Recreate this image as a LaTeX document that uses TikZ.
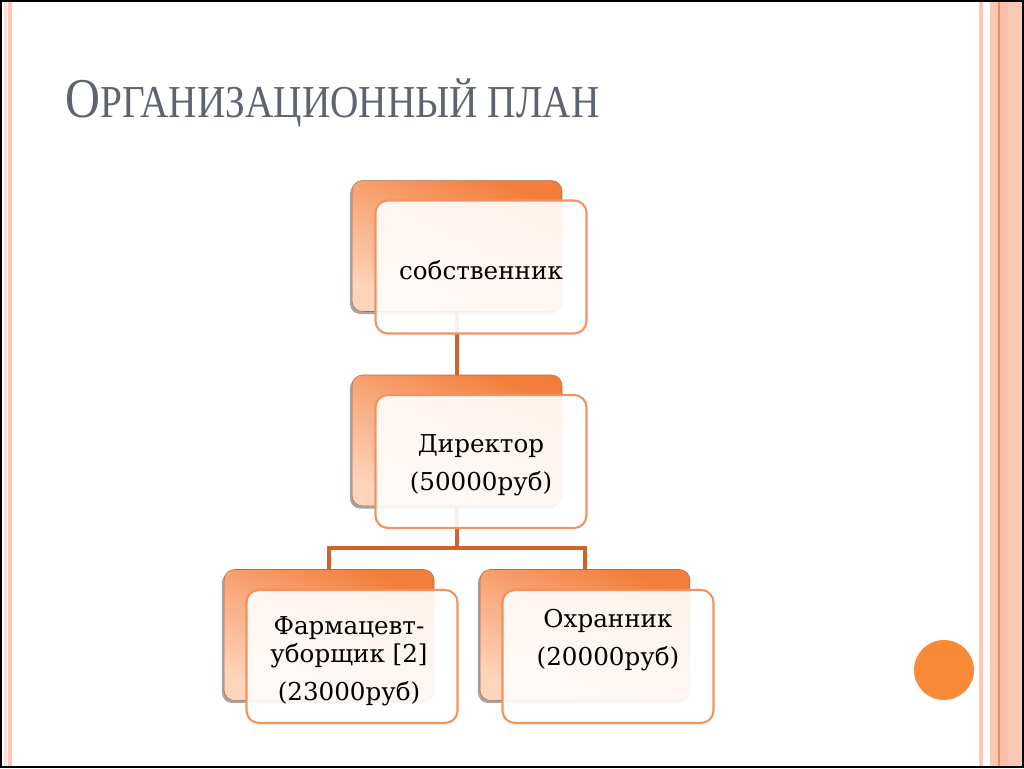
\documentclass[tikz,border=0pt]{standalone}
\usepackage{fontspec}
\setmainfont{DejaVu Serif}
\newfontfamily\titlefont[FakeStretch=0.86]{Liberation Serif}
\usetikzlibrary{positioning,shadows}

\definecolor{deeporange}{RGB}{243,125,58}
\definecolor{lightpeach}{RGB}{253,212,188}
\definecolor{boxrim}{RGB}{170,110,80}
\definecolor{frontline}{RGB}{240,148,95}
\definecolor{linkbrown}{RGB}{205,100,42}
\definecolor{stripesalmon}{RGB}{252,200,180}
\definecolor{stripepale}{RGB}{249,224,214}
\definecolor{stripeline}{RGB}{240,140,90}
\definecolor{dotorange}{RGB}{249,138,56}
\definecolor{titlegray}{RGB}{94,100,111}

\begin{document}
\begin{tikzpicture}[x=0.02cm, y=-0.02cm, node distance={12.6mm},
    back/.style = {rounded corners=6pt, top color=deeporange, bottom color=lightpeach,
                   shading angle=-25, draw=boxrim, line width=0.3pt,
                   minimum width=4.2cm, minimum height=2.62cm,
                   drop shadow={shadow xshift=-1.2pt, shadow yshift=-1.5pt, opacity=0.7}},
    front/.style = {rounded corners=7pt, fill=white, fill opacity=0.9, draw=frontline,
                    line width=1.2pt, minimum width=4.22cm, minimum height=2.66cm},
    txt/.style = {font=\fontsize{14}{16}\selectfont, align=center, inner sep=0pt, text=black},
    link/.style = {draw=linkbrown, line width=2pt}]

    \useasboundingbox (0,0) rectangle (1024,768);

    % frame and stripes
    \fill[white] (0,0) rectangle (1024,768);
    \fill[stripepale] (4,0) rectangle (7,768);
    \fill[stripesalmon] (8,0) rectangle (12,768);
    \fill[stripesalmon] (979,0) rectangle (983,768);
    \fill[stripesalmon] (990,0) rectangle (1024,768);
    \fill[stripesalmon!85!stripeline] (999,0) rectangle (1008,768);
    \fill[stripeline] (998,0) rectangle (999.5,768);
    \draw[black, line width=1.2pt] (0.8,0.8) rectangle (1023.2,767.2);

    % title
    \node[anchor=base west, inner sep=0pt, text=titlegray] (title) at (65,117)
        {\titlefont\fontsize{32}{32}\selectfont О\fontsize{26}{26}\selectfont РГАНИЗАЦИОННЫЙ ПЛАН};

    % back boxes
    \node[back] (own) at (457,246) {};
    \node[back] (dir) [below=of own] {};
    \node[back] (ph) [below=of dir, xshift=-2.56cm] {};
    \node[back] (gd) [below=of dir, xshift=2.56cm] {};

    % connectors
    \coordinate (fork) at (457,548);
    \draw[link] (own) -- (dir);
    \draw[link] (dir.south) -- (fork);
    \draw[link] (ph.north) |- (fork) -| (gd.north);

    % front boxes
    \node[front, xshift=0.48cm, yshift=-0.42cm] (ownf) at (own) {};
    \node[front, xshift=0.48cm, yshift=-0.42cm] (dirf) at (dir) {};
    \node[front, xshift=0.46cm, yshift=-0.43cm] (phf) at (ph) {};
    \node[front, xshift=0.46cm, yshift=-0.43cm] (gdf) at (gd) {};

    % texts
    \node[txt, yshift=-0.06cm] (ownt) at (ownf) {собственник};
    \node[txt, yshift=-0.08cm] (dirt) at (dirf) {Директор\\[5.5pt](50000руб)};
    \node[txt, xshift=-0.06cm, yshift=-0.1cm] (pht) at (phf) {Фармацевт-\\уборщик [2]\\[5.5pt](23000руб)};
    \node[txt, yshift=0.32cm] (gdt) at (gdf) {Охранник\\[5.5pt](20000руб)};

    % dot
    \fill[dotorange] (944,670) circle[radius=0.6cm];

\end{tikzpicture}
\end{document}
